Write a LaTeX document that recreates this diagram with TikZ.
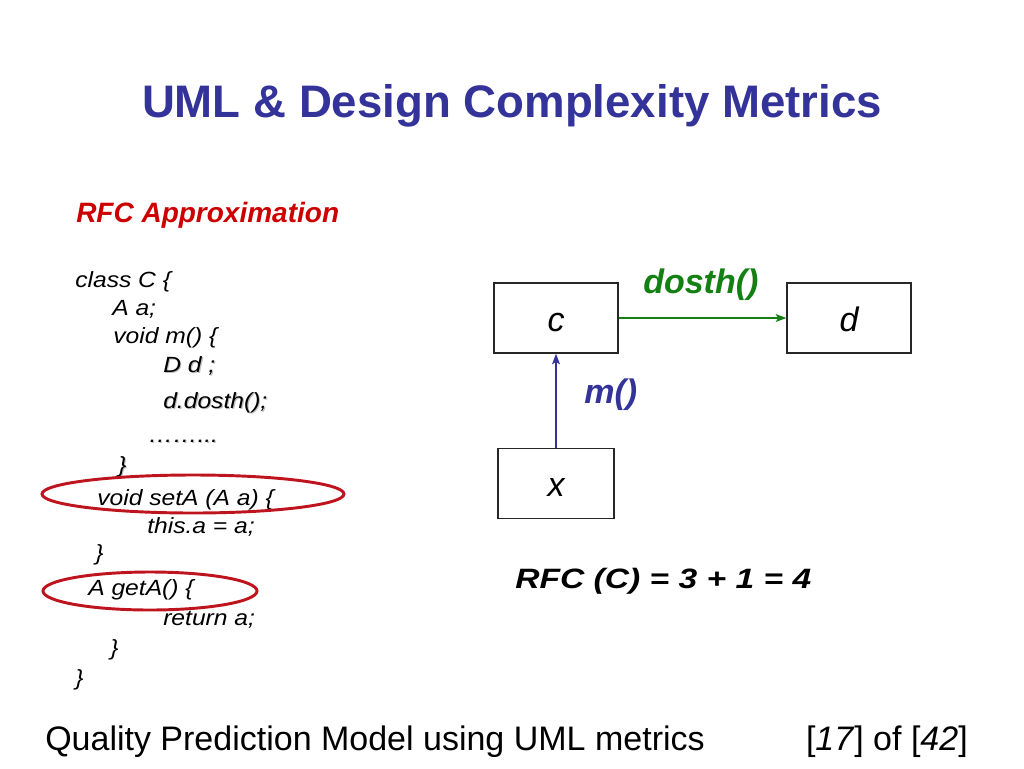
\documentclass[tikz,border=0pt]{standalone}
\usepackage{fontspec}
\setmainfont{Liberation Sans}
\usepackage{graphicx}
\usetikzlibrary{arrows.meta}
\definecolor{titleblue}{RGB}{51,51,153}
\definecolor{rfcred}{RGB}{204,0,0}
\definecolor{dgreen}{RGB}{20,128,20}
\definecolor{ellred}{RGB}{190,20,30}
\newcommand{\cx}[1]{\scalebox{1.12}[1]{#1}}
\newcommand{\shd}[1]{\makebox[0pt][l]{\raisebox{-0.8pt}{\hspace{0.8pt}\textcolor{black!25}{#1}}}#1}
\begin{document}
\begin{tikzpicture}[x=0.75pt,y=-0.75pt,
  code/.style={anchor=base west,inner sep=0pt,font=\fontsize{16.5}{18}\selectfont\itshape},
  box/.style={draw=black!85,line width=1.1pt,minimum width=93pt,minimum height=52.5pt,inner sep=0pt,text height=19.5pt,text depth=0pt,font=\fontsize{25.5}{28}\selectfont\itshape},
  lbl/.style={anchor=base west,inner sep=0pt,font=\fontsize{25.5}{28}\selectfont\bfseries\itshape},
  oval/.style={draw=ellred,line width=2.2pt},
  conn/.style={line width=0.9pt,-{Stealth[length=8pt,width=6pt,inset=2pt]}}]
\useasboundingbox[fill=white] (0,0) rectangle (1024,768);
% title
\node[anchor=base,inner sep=0pt,text=titleblue,font=\fontsize{34.2}{38}\selectfont\bfseries] (title) at (512,117) {UML \& Design Complexity Metrics};
% subtitle
\node[anchor=base west,inner sep=0pt,text=rfcred,font=\fontsize{21}{24}\selectfont\bfseries\itshape] (sub) at (76,222) {RFC Approximation};
% code
\node[code] (l1) at (75,287) {\cx{class C \{}};
\node[code] (l2) at (112,315) {\cx{A a;}};
\node[code] (l3) at (113,343) {\cx{void m() \{}};
\node[code] (l4) at (163,372) {\cx{\shd{D d ;}}};
\node[code] (l5) at (163,408) {\cx{\shd{d.dosth();}}};
\node[code] (l6) at (148,442) {\cx{\shd{……...}}};
\node[code] (l7) at (118,472) {\cx{\shd{\}}}};
\node[code] (l8) at (97,505) {\cx{void setA (A a) \{}};
\node[code] (l9) at (147,533) {\cx{this.a = a;}};
\node[code] (l10) at (95,560) {\cx{\}}};
\node[code] (l11) at (88,595) {\cx{A getA() \{}};
\node[code] (l12) at (163,625) {\cx{return a;}};
\node[code] (l13) at (110,655) {\cx{\}}};
\node[code] (l14) at (75,685) {\cx{\}}};
% ovals
\draw[oval] (193,494) ellipse [x radius=151,y radius=19];
\draw[oval] (150,591) ellipse [x radius=107,y radius=19];
% diagram
\node[box] (c) at (556,318) {c};
\node[box] (d) at (849,318) {d};
\node[box,minimum width=87pt] (x) at (556,483.5) {x};
\draw[conn,draw=dgreen,fill=dgreen] (c.east) -- (d.west);
\draw[conn,draw=titleblue,fill=titleblue] (x.north) -- (c.south);
\node[lbl,text=dgreen] (dosth) at (643,293) {dosth()};
\node[lbl,text=titleblue] (m) at (584,403) {m()};
% RFC result
\node[anchor=base west,inner sep=0pt,font=\fontsize{21}{24}\selectfont\bfseries\itshape] (rfc) at (515,588) {\scalebox{1.2}[1]{RFC (C) = 3 + 1 = 4}};
% footer
\node[anchor=base west,inner sep=0pt,font=\fontsize{25.5}{28}\selectfont] (foot) at (45,750) {Quality Prediction Model using UML metrics};
\node[anchor=base east,inner sep=0pt,font=\fontsize{25.5}{28}\selectfont] (page) at (968,750) {[\textit{17}] of [\textit{42}]};
\end{tikzpicture}
\end{document}
